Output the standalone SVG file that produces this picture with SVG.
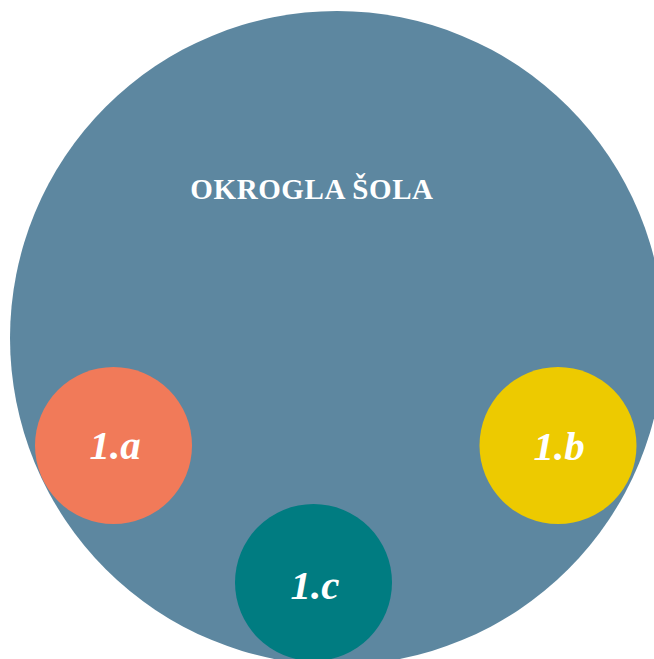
<svg xmlns="http://www.w3.org/2000/svg" width="654" height="659" viewBox="0 0 654 659">
<style>
.lbl{font-family:"Liberation Serif","Times New Roman",serif;font-weight:bold;font-style:italic;font-size:41px;fill:#ffffff;text-anchor:middle}
.title{font-family:"Liberation Serif","Times New Roman",serif;font-weight:bold;font-size:29px;letter-spacing:0.6px;fill:#ffffff;text-anchor:middle}
</style>
<rect width="654" height="659" fill="#ffffff"/>
<g id="school">
<circle cx="337" cy="338" r="327" fill="#5D87A0"/>
<text class="title" x="312" y="199">OKROGLA ŠOLA</text>
</g>
<g id="connectors"></g>
<g id="class-1a">
<circle cx="113.5" cy="445.5" r="78.5" fill="#F17A59"/>
<text class="lbl" x="115" y="459">1.a</text>
</g>
<g id="class-1b">
<circle cx="558" cy="445.5" r="78.5" fill="#EDCA00"/>
<text class="lbl" x="559" y="460">1.b</text>
</g>
<g id="class-1c">
<circle cx="313.5" cy="582.5" r="78.5" fill="#007C81"/>
<text class="lbl" x="315" y="599">1.c</text>
</g>
</svg>
